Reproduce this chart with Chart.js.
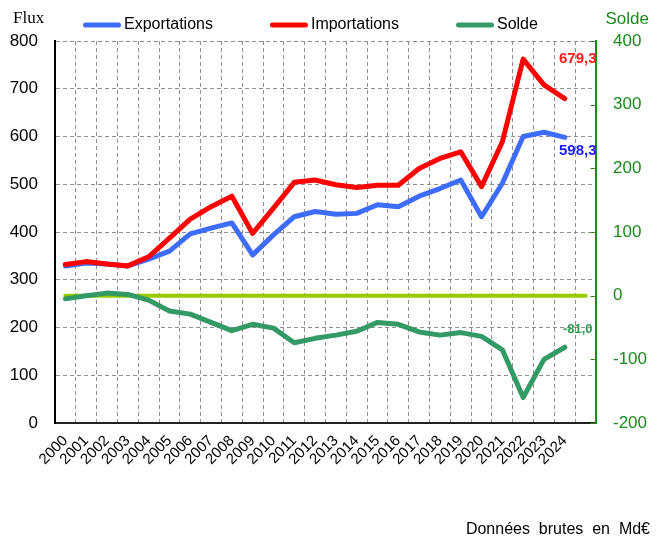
<!DOCTYPE html>
<html>
<head>
<meta charset="utf-8">
<script src="https://cdn.jsdelivr.net/npm/chart.js@4.4.1/dist/chart.umd.min.js"></script>
<style>
  html, body { margin: 0; padding: 0; background: #fff; }
  #wrap { width: 656px; height: 546px; position: relative; }
</style>
</head>
<body>
<div id="wrap"><canvas id="chart" width="656" height="546"></canvas></div>
<script>
// ------------------------------------------------------------------ data
const years = ['2000', '2001', '2002', '2003', '2004', '2005', '2006', '2007', '2008', '2009',
    '2010', '2011', '2012', '2013', '2014', '2015', '2016', '2017', '2018', '2019',
    '2020', '2021', '2022', '2023', '2024', ''];

const exportations = [329, 335, 333, 329, 343, 360, 396, 408, 419, 352,
    394, 432, 443, 437, 439, 457, 453, 475, 491, 509,
    432, 502, 600, 609, 598.3];

const importations = [332, 338, 333, 329, 348, 387, 427, 453, 475, 397,
    450, 504, 509, 499, 493, 498, 498, 533, 554, 568,
    495, 589, 762, 708, 679.3];

const solde = [-5, 0, 4, 2, -7, -24, -29, -42, -55, -45,
    -51, -74, -67, -62, -56, -42, -45, -57, -62, -58,
    -64, -85, -160, -100, -81.0];

const zeroLine = [0, 0, 0, 0, 0, 0, 0, 0, 0, 0, 0, 0, 0, 0, 0, 0, 0, 0, 0, 0, 0, 0, 0, 0, 0, 0];

const fluxTicks = [0, 800, 100];     // min, max, step
const soldeTicks = [-200, 400, 100];

// ---------------------------------------------------------------- styles
const FONT = "'Liberation Sans', Arial, sans-serif";
const GREEN_AXIS = '#1a8a1a';
const GRID = '#8f8f8f';

Chart.defaults.font.family = FONT;

const fmt = v => v.toFixed(1).replace('.', ',');

// draws the legend, the corner titles, the last-value labels and the note
const overlay = {
    id: 'overlay',
    afterDraw(chart) {
        const ctx = chart.ctx;
        ctx.save();

        // legend
        ctx.font = `16px ${FONT}`;
        ctx.textBaseline = 'middle';
        ctx.textAlign = 'left';
        let x = 83;
        chart.data.datasets.forEach(ds => {
            if (!ds.inLegend) return;
            ctx.strokeStyle = ds.borderColor;
            ctx.lineWidth = 5;
            ctx.lineCap = 'round';
            ctx.beginPath();
            ctx.moveTo(x + 2.5, 25);
            ctx.lineTo(x + 35.5, 25);
            ctx.stroke();
            ctx.fillStyle = '#000';
            ctx.fillText(ds.label, x + 41, 25);
            x += 41 + ctx.measureText(ds.label).width + 57;
        });

        // axis titles
        ctx.fillStyle = '#000';
        ctx.font = `17px 'Liberation Serif', 'Times New Roman', serif`;
        ctx.fillText('Flux', 13, 19);
        ctx.fillStyle = GREEN_AXIS;
        ctx.font = `17px ${FONT}`;
        ctx.textAlign = 'right';
        ctx.fillText('Solde', 649, 19);

        // small inner ticks on the Solde axis
        const y2 = chart.scales.y2;
        ctx.strokeStyle = GREEN_AXIS;
        ctx.lineWidth = 1;
        y2.ticks.forEach(t => {
            const ty = Math.round(y2.getPixelForValue(t.value)) + 0.5;
            ctx.beginPath();
            ctx.moveTo(y2.left - 5, ty);
            ctx.lineTo(y2.left, ty);
            ctx.stroke();
        });

        // last values
        chart.data.datasets.forEach((ds, i) => {
            if (!ds.lastLabel) return;
            const meta = chart.getDatasetMeta(i);
            const pt = meta.data[ds.data.length - 1];
            ctx.font = `bold ${ds.lastLabel.size}px ${FONT}`;
            ctx.fillStyle = ds.lastLabel.color;
            ctx.textAlign = 'center';
            ctx.fillText(fmt(ds.data[ds.data.length - 1]), pt.x + ds.lastLabel.dx, pt.y + ds.lastLabel.dy);
        });

        // note
        ctx.fillStyle = '#000';
        ctx.font = `16px ${FONT}`;
        ctx.textAlign = 'right';
        ctx.fillText('Données  brutes  en  Md€', 650, 530);

        ctx.restore();
    }
};

new Chart(document.getElementById('chart'), {
    type: 'line',
    data: {
        labels: years,
        datasets: [
            {
                label: 'Exportations',
                data: exportations,
                yAxisID: 'y',
                borderColor: '#3d6cff',
                borderWidth: 5,
                order: 1,
                inLegend: true,
                lastLabel: { color: '#1a1aff', size: 15, dx: 13, dy: 14 }
            },
            {
                label: 'Importations',
                data: importations,
                yAxisID: 'y',
                borderColor: '#ff0000',
                borderWidth: 5,
                order: 0,
                inLegend: true,
                lastLabel: { color: '#ff1a1a', size: 15, dx: 13, dy: -40 }
            },
            {
                label: 'Solde',
                data: solde,
                yAxisID: 'y2',
                borderColor: '#339966',
                borderWidth: 5,
                order: 2,
                inLegend: true,
                lastLabel: { color: '#2e9a50', size: 13, dx: 13, dy: -18 }
            },
            {
                label: 'zero',
                data: zeroLine,
                yAxisID: 'y2',
                borderColor: '#99cc00',
                borderWidth: 4,
                order: 3
            }
        ]
    },
    options: {
        responsive: false,
        animation: false,
        layout: { padding: { top: 41, left: 0, right: 0, bottom: 0 } },
        elements: {
            point: { radius: 0, hoverRadius: 0 },
            line: { tension: 0, borderJoinStyle: 'round', borderCapStyle: 'round', fill: false }
        },
        plugins: {
            legend: { display: false },
            tooltip: { enabled: false }
        },
        scales: {
            x: {
                offset: true,
                grid: { offset: true, color: GRID, drawTicks: false },
                border: { color: '#222', width: 2, dash: [4, 3] },
                ticks: {
                    autoSkip: false,
                    maxRotation: 45,
                    minRotation: 45,
                    color: '#000',
                    padding: 9,
                    font: { size: 15 }
                },
                afterFit: s => { s.height = 123; }
            },
            y: {
                position: 'left',
                min: fluxTicks[0],
                max: fluxTicks[1],
                ticks: { stepSize: fluxTicks[2], color: '#000', padding: 17, font: { size: 17 } },
                grid: { color: GRID, drawTicks: false },
                border: { color: '#000', width: 2, dash: [4, 3] },
                afterFit: s => { s.width = 55; }
            },
            y2: {
                position: 'right',
                min: soldeTicks[0],
                max: soldeTicks[1],
                ticks: { stepSize: soldeTicks[2], color: GREEN_AXIS, padding: 17, font: { size: 17 } },
                grid: { drawOnChartArea: false, drawTicks: false },
                border: { color: GREEN_AXIS, width: 2 },
                afterFit: s => { s.width = 60; }
            }
        }
    },
    plugins: [overlay]
});
</script>
</body>
</html>
